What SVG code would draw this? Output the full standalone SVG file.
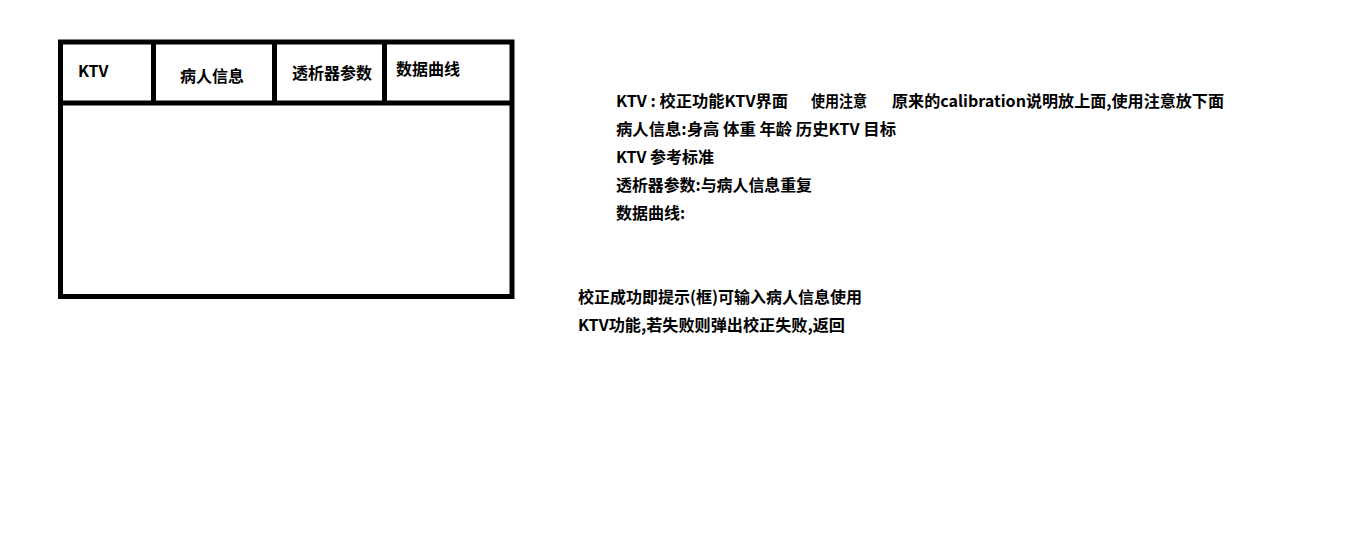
<svg xmlns="http://www.w3.org/2000/svg" width="1357" height="540" viewBox="0 0 1357 540">
<style>
.t{font-family:"Noto Sans CJK SC","Microsoft YaHei",sans-serif;font-size:16px;font-weight:bold;fill:#000}
.b{fill:none;stroke:#000;stroke-width:5}
</style>
<rect width="1357" height="540" fill="#fff"/>
<g id="frame">
<rect class="b" x="60.5" y="42" width="451.5" height="254.5"/>
<line class="b" x1="60.5" y1="103" x2="512" y2="103"/>
<line class="b" x1="153.5" y1="42" x2="153.5" y2="103"/>
<line class="b" x1="274.5" y1="42" x2="274.5" y2="103"/>
<line class="b" x1="384.5" y1="42" x2="384.5" y2="103"/>
</g>
<g id="tab-ktv"><text class="t" x="78" y="77">KTV</text></g>
<g id="tab-patient"><text class="t" x="180" y="82">病人信息</text></g>
<g id="tab-dialyzer"><text class="t" x="292" y="79">透析器参数</text></g>
<g id="tab-curve"><text class="t" x="396" y="75">数据曲线</text></g>
<g id="notes">
<text class="t" x="616" y="107" textLength="172" lengthAdjust="spacingAndGlyphs">KTV : 校正功能KTV界面</text>
<text class="t" x="811" y="107" textLength="56" lengthAdjust="spacingAndGlyphs">使用注意</text>
<text class="t" x="892" y="107" textLength="332" lengthAdjust="spacingAndGlyphs">原来的calibration说明放上面,使用注意放下面</text>
<text class="t" x="616" y="135" textLength="280" lengthAdjust="spacingAndGlyphs">病人信息:身高 体重 年龄 历史KTV 目标</text>
<text class="t" x="616" y="163">KTV 参考标准</text>
<text class="t" x="616" y="191" textLength="196" lengthAdjust="spacingAndGlyphs">透析器参数:与病人信息重复</text>
<text class="t" x="616" y="219">数据曲线:</text>
<text class="t" x="578" y="303" textLength="284" lengthAdjust="spacingAndGlyphs">校正成功即提示(框)可输入病人信息使用</text>
<text class="t" x="578" y="331" textLength="267" lengthAdjust="spacingAndGlyphs">KTV功能,若失败则弹出校正失败,返回</text>
</g>
</svg>
